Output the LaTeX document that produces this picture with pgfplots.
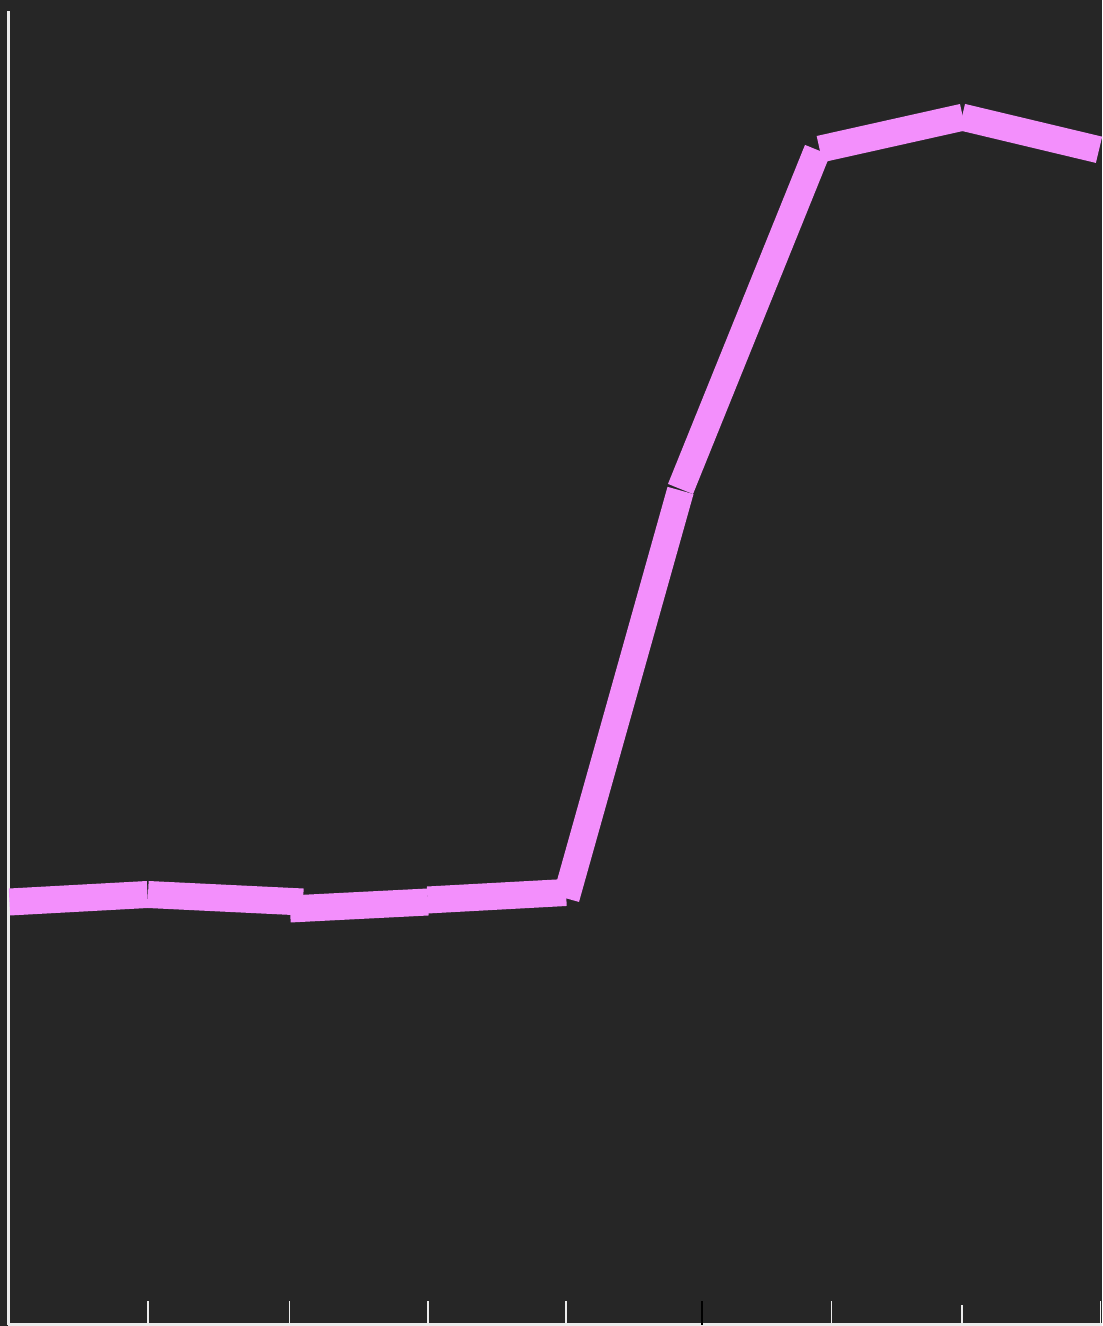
\documentclass[border=0pt]{standalone}
\usepackage{pgfplots}
\pgfplotsset{compat=1.18}
\definecolor{bg}{RGB}{38,38,38}
\definecolor{pinkline}{RGB}{243,143,252}
\definecolor{axgray}{RGB}{235,235,235}
\tikzset{seg/.style={line width=13.5pt, draw=pinkline, line cap=butt, mark=none, solid}}
\begin{document}
\begin{tikzpicture}
\fill[bg] (-4.25pt,-0.75pt) rectangle (546.75pt,662.25pt);
\begin{axis}[
  at={(0,0)}, anchor=south west,
  scale only axis,
  width=546.75pt, height=656.75pt,
  xmin=8.5, xmax=1102, ymin=1.5, ymax=1315,
  axis x line=bottom, axis y line=left,
  axis line style={-, draw=axgray, line width=1.1pt},
  xtick={148,289.5,428,565.7,831.3,1100.5},
  xticklabels={},
  minor xtick={962},
  ytick=\empty,
  xtick align=inside,
  major tick length=12pt,
  minor tick length=10pt,
  tick style={draw=axgray, line width=0.8pt},
  extra x ticks={702},
  extra x tick labels={},
  extra x tick style={tick style={draw=black, line width=0.9pt}},
  clip=true,
]
\addplot[seg] coordinates {(9.5,424) (147.5,431.5)};
\addplot[seg] coordinates {(148,431.5) (303,424)};
\addplot[seg] coordinates {(290,417) (428,424)};
\addplot[seg] coordinates {(427.5,426) (566,433.5)};
\addplot[seg] coordinates {(566,427.7) (680.5,835.5)};
\addplot[seg] coordinates {(680.5,837) (817.5,1176)};
\addplot[seg] coordinates {(819.6,1176.8) (962.9,1208.8)};
\addplot[seg] coordinates {(961.9,1208.9) (1099,1176.2)};
\end{axis}
\pgfresetboundingbox
\path[use as bounding box] (-4.25pt,-0.75pt) rectangle (546.75pt,662.25pt);
\end{tikzpicture}
\end{document}
